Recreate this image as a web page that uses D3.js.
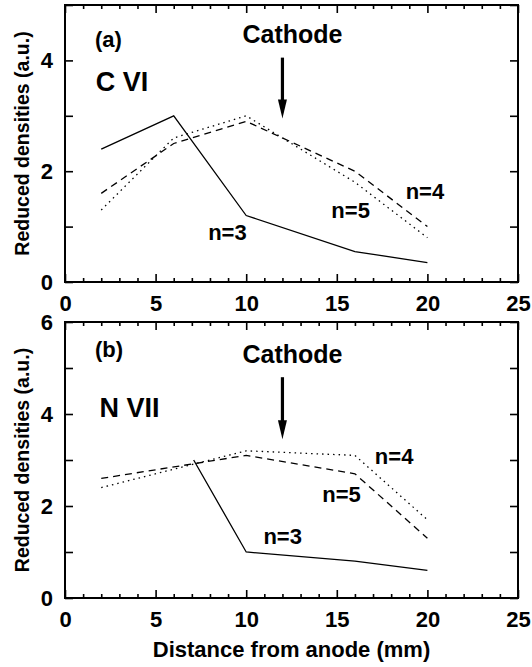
<!DOCTYPE html>
<html>
<head>
<meta charset="utf-8">
<script src="https://cdn.jsdelivr.net/npm/d3@7"></script>
<style>
  body { margin: 0; background: #fff; }
  text { font-family: "Liberation Sans", Arial, sans-serif; font-weight: bold; fill: #000; }
</style>
</head>
<body>
<svg></svg>
<script>
let width = 532;
let height = 667;
let left = 65;
let right = 518;

// panel (a) C VI
let xA = [2, 6, 10, 16, 20];
let aN3 = [2.4, 3.0, 1.2, 0.55, 0.35];
let aN4 = [1.6, 2.5, 2.9, 2.0, 1.0];
let aN5 = [1.3, 2.6, 3.0, 1.8, 0.8];

// panel (b) N VII
let xB3 = [7.1, 10, 16, 20];
let bN3 = [3.0, 1.0, 0.8, 0.6];
let xB = [2, 10, 16, 20];
let bN4 = [2.4, 3.2, 3.1, 1.7];
let bN5 = [2.6, 3.1, 2.7, 1.3];

let cathodeX = 12;
let xTickLabels = [0, 5, 10, 15, 20, 25];

let svg = d3.select("svg")
            .attr("width", width)
            .attr("height", height)

let xScale = d3.scaleLinear()
                .domain([0, 25])
                .range([left, right])

let panels = [
    {
        top: 5, bottom: 282, ymax: 5, yLabels: [0, 2, 4],
        tag: "(a)", tagPos: [1.65, 4.25],
        ion: "C VI", ionPos: [1.7, 3.45],
        cathodeY: 4.31, arrow: [4.05, 2.95],
        series: [
            { x: xA, y: aN3, dash: null },
            { x: xA, y: aN4, dash: "7,5" },
            { x: xA, y: aN5, dash: "1.5,4" }
        ],
        labels: [["n=3", 7.9, 0.75], ["n=5", 14.7, 1.16], ["n=4", 18.8, 1.5]]
    },
    {
        top: 322, bottom: 598, ymax: 6, yLabels: [0, 2, 4, 6],
        tag: "(b)", tagPos: [1.65, 5.24],
        ion: "N VII", ionPos: [1.9, 3.94],
        cathodeY: 5.11, arrow: [4.8, 3.45],
        series: [
            { x: xB3, y: bN3, dash: null },
            { x: xB, y: bN4, dash: "1.5,4" },
            { x: xB, y: bN5, dash: "7,5" }
        ],
        labels: [["n=3", 10.95, 1.18], ["n=5", 14.2, 2.08], ["n=4", 17.1, 2.92]]
    }
];

panels.forEach(function(p) {
    let yScale = d3.scaleLinear()
                    .domain([0, p.ymax])
                    .range([p.bottom, p.top])

    let g = svg.append("g")

    // minor x ticks
    let minor = d3.range(0, 26).filter(d => d % 5 != 0);
    g.append("g")
        .attr("transform", "translate(0," + p.bottom + ")")
        .call(d3.axisBottom(xScale).tickValues(minor).tickSize(-4).tickFormat(""))
    g.append("g")
        .attr("transform", "translate(0," + p.top + ")")
        .call(d3.axisTop(xScale).tickValues(minor).tickSize(-4).tickFormat(""))

    // major x ticks
    g.append("g")
        .attr("transform", "translate(0," + p.bottom + ")")
        .call(d3.axisBottom(xScale).tickValues(xTickLabels).tickSize(-8).tickPadding(13).tickFormat(d3.format("d")))
    g.append("g")
        .attr("transform", "translate(0," + p.top + ")")
        .call(d3.axisTop(xScale).tickValues(xTickLabels).tickSize(-8).tickFormat(""))

    // y ticks
    let yTicks = d3.range(0, p.ymax + 1);
    g.append("g")
        .attr("transform", "translate(" + left + ",0)")
        .call(d3.axisLeft(yScale).tickValues(yTicks).tickSize(-8).tickPadding(12)
                .tickFormat(d => p.yLabels.includes(d) ? d : ""))
    g.append("g")
        .attr("transform", "translate(" + right + ",0)")
        .call(d3.axisRight(yScale).tickValues(yTicks).tickSize(-8).tickFormat(""))

    g.selectAll(".domain").remove()
    g.selectAll(".tick line").attr("stroke", "#000").attr("stroke-width", 1.6)
    g.selectAll(".tick text")
        .style("font-size", "22px")
        .style("font-family", "'Liberation Sans', Arial, sans-serif")
        .style("font-weight", "bold")
        .attr("fill", "#000")

    // frame
    g.append("rect")
        .attr("x", left)
        .attr("y", p.top)
        .attr("width", right - left)
        .attr("height", p.bottom - p.top)
        .attr("fill", "none")
        .attr("stroke", "#000")
        .attr("stroke-width", 2)

    // curves
    let line = d3.line()
                .x(d => xScale(d[0]))
                .y(d => yScale(d[1]))

    p.series.forEach(function(s) {
        g.append("path")
            .datum(d3.zip(s.x, s.y))
            .attr("d", line)
            .attr("fill", "none")
            .attr("stroke", "#000")
            .attr("stroke-width", 1.3)
            .attr("stroke-dasharray", s.dash)
    })

    p.labels.forEach(function(l) {
        g.append("text")
            .attr("x", xScale(l[1]))
            .attr("y", yScale(l[2]))
            .style("font-size", "22px")
            .text(l[0])
    })

    g.append("text")
        .attr("x", xScale(p.tagPos[0]))
        .attr("y", yScale(p.tagPos[1]))
        .style("font-size", "22px")
        .text(p.tag)

    g.append("text")
        .attr("x", xScale(p.ionPos[0]))
        .attr("y", yScale(p.ionPos[1]))
        .style("font-size", "27px")
        .text(p.ion)

    g.append("text")
        .attr("x", xScale(cathodeX) + 10)
        .attr("y", yScale(p.cathodeY))
        .style("font-size", "25px")
        .style("text-anchor", "middle")
        .text("Cathode")

    // arrow
    let ax = xScale(cathodeX);
    let y0 = yScale(p.arrow[0]);
    let y1 = yScale(p.arrow[1]);
    g.append("line")
        .attr("x1", ax).attr("x2", ax)
        .attr("y1", y0).attr("y2", y1 - 17)
        .attr("stroke", "#000")
        .attr("stroke-width", 3.2)
    g.append("path")
        .attr("d", "M" + (ax - 4.5) + "," + (y1 - 19) + "L" + (ax + 4.5) + "," + (y1 - 19) + "L" + ax + "," + y1 + "Z")
        .attr("fill", "#000")

    // y title
    svg.append("text")
        .attr("transform", "translate(29," + ((p.top + p.bottom) / 2) + ") rotate(-90)")
        .style("font-size", "19.5px")
        .style("text-anchor", "middle")
        .text("Reduced densities (a.u.)")
})

svg.append("text")
    .attr("x", (left + right) / 2)
    .attr("y", 657)
    .style("font-size", "22px")
    .style("text-anchor", "middle")
    .text("Distance from anode (mm)")
</script>
</body>
</html>
